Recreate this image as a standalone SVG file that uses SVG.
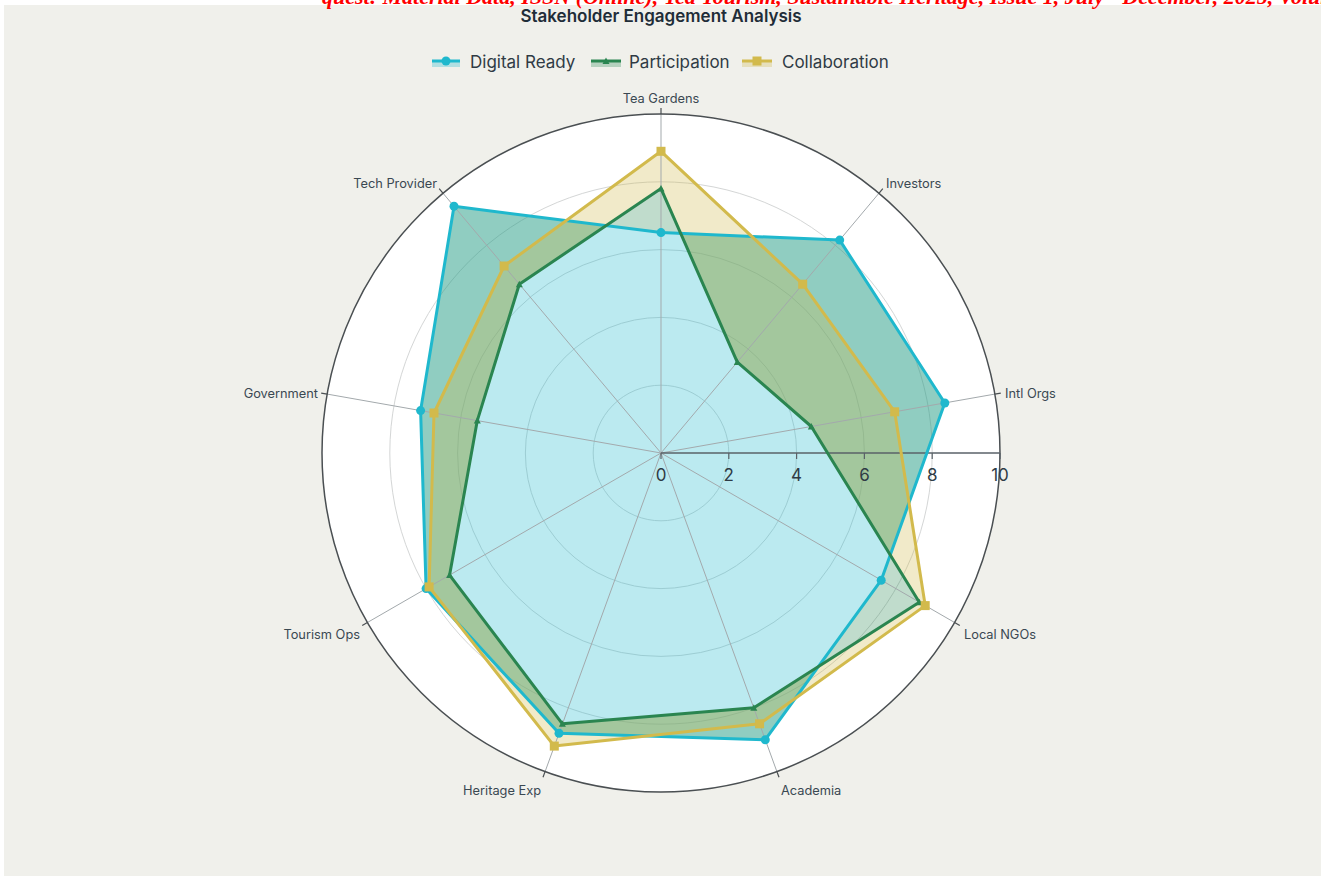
<svg xmlns="http://www.w3.org/2000/svg" width="1321" height="876" viewBox="0 0 1321 876">
<style>
.cat{font-family:Inter,"Liberation Sans",Arial,sans-serif;font-size:12.8px;fill:#3a4852}
.tick{font-family:Inter,"Liberation Sans",Arial,sans-serif;font-size:17px;fill:#2f3b45;text-anchor:middle}
.leg{font-family:Inter,"Liberation Sans",Arial,sans-serif;font-size:17px;fill:#2f3b45}
.grid{fill:none;stroke:#d4d6d6;stroke-width:1}
.spoke{stroke:#a3a9ac;stroke-width:1}
.ln{fill:none;stroke-width:3;stroke-linejoin:round}
</style>
<defs>
<marker id="mc" viewBox="-5 -5 10 10" markerWidth="10" markerHeight="10" markerUnits="userSpaceOnUse"><circle r="4.5" fill="#1FB8CD"/></marker>
<marker id="mg" viewBox="-5 -5 10 10" markerWidth="10" markerHeight="10" markerUnits="userSpaceOnUse"><path d="M0,-3.5 L3.5,3 L-3.5,3 Z" fill="#2a8550"/></marker>
<marker id="my" viewBox="-5 -5 10 10" markerWidth="10" markerHeight="10" markerUnits="userSpaceOnUse"><rect x="-4.5" y="-4.5" width="9" height="9" fill="#D2BA4C"/></marker>
</defs>
<rect width="1321" height="876" fill="#ffffff"/>
<rect x="4" y="5" width="1317" height="871" fill="#f0f0eb"/>
<text x="322" y="4" font-family="'Liberation Serif',serif" font-style="italic" font-weight="bold" font-size="22" fill="#ff0000">quest: Material Data, ISSN (Online), Tea Tourism, Sustainable Heritage, Issue 1, July - December, 2025, Volume 3</text>
<text x="661" y="22" text-anchor="middle" font-family="Inter,'Liberation Sans',sans-serif" font-size="17" font-weight="600" fill="#1f2d38">Stakeholder Engagement Analysis</text>

<g id="legend">
<rect x="432" y="61" width="28" height="6" fill="#1FB8CD" fill-opacity="0.3"/>
<line x1="432" y1="61" x2="460" y2="61" stroke="#1FB8CD" stroke-width="3"/>
<circle cx="446" cy="61" r="4.5" fill="#1FB8CD"/>
<text class="leg" x="470" y="68">Digital Ready</text>
<rect x="591" y="61" width="30" height="6" fill="#2E8B57" fill-opacity="0.3"/>
<line x1="591" y1="61" x2="621" y2="61" stroke="#2a8550" stroke-width="3"/>
<path d="M606,57.5 L609.5,64 L602.5,64 Z" fill="#2a8550"/>
<text class="leg" x="629" y="68">Participation</text>
<rect x="742" y="61" width="30" height="6" fill="#D2BA4C" fill-opacity="0.3"/>
<line x1="742" y1="61" x2="772" y2="61" stroke="#D2BA4C" stroke-width="3"/>
<rect x="752.5" y="56.5" width="9" height="9" fill="#D2BA4C"/>
<text class="leg" x="782" y="68">Collaboration</text>
</g>

<g id="polar-bg">
<circle cx="661" cy="453" r="339" fill="#ffffff"/>
<circle class="grid" cx="661" cy="453" r="67.8"/>
<circle class="grid" cx="661" cy="453" r="135.6"/>
<circle class="grid" cx="661" cy="453" r="203.4"/>
<circle class="grid" cx="661" cy="453" r="271.2"/>
</g>

<g id="fills">
<path d="M661,232.6 L839.7,240.1 L944.8,403.0 L881.2,580.2 L765.3,739.7 L559.0,733.3 L426.1,588.6 L420.6,410.6 L454.0,206.3 Z" fill="#1FB8CD" fill-opacity="0.3"/>
<path fill-rule="evenodd" d="M661,232.6 L839.7,240.1 L944.8,403.0 L881.2,580.2 L765.3,739.7 L559.0,733.3 L426.1,588.6 L420.6,410.6 L454.0,206.3 Z M661,188.6 L737.3,362.1 L811.3,426.5 L919.3,602.2 L753.8,707.8 L562.4,723.8 L449.6,575.1 L477.3,420.6 L519.3,284.2 Z" fill="#2E8B57" fill-opacity="0.3"/>
<path fill-rule="evenodd" d="M661,188.6 L737.3,362.1 L811.3,426.5 L919.3,602.2 L753.8,707.8 L562.4,723.8 L449.6,575.1 L477.3,420.6 L519.3,284.2 Z M661,151.3 L802.7,284.2 L894.7,411.8 L925.2,605.6 L759.6,723.8 L554.3,746.1 L429.1,586.9 L434.0,413.0 L504.1,266.0 Z" fill="#D2BA4C" fill-opacity="0.3"/>
</g>

<g id="axes">
<line class="spoke" x1="661" y1="453" x2="661" y2="114"/>
<line class="spoke" x1="661" y1="453" x2="878.9" y2="193.3"/>
<line class="spoke" x1="661" y1="453" x2="994.8" y2="394.1"/>
<line class="spoke" x1="661" y1="453" x2="954.6" y2="622.5"/>
<line class="spoke" x1="661" y1="453" x2="776.9" y2="771.6"/>
<line class="spoke" x1="661" y1="453" x2="545.1" y2="771.6"/>
<line class="spoke" x1="661" y1="453" x2="367.4" y2="622.5"/>
<line class="spoke" x1="661" y1="453" x2="327.2" y2="394.1"/>
<line class="spoke" x1="661" y1="453" x2="443.1" y2="193.3"/>
<circle cx="661" cy="453" r="339" fill="none" stroke="#4a4f52" stroke-width="1.5"/>
<g stroke="#4a4f52" stroke-width="1.2">
<line x1="661" y1="114" x2="661" y2="108"/>
<line x1="878.9" y1="193.3" x2="882.8" y2="188.7"/>
<line x1="994.8" y1="394.1" x2="1000.8" y2="393.1"/>
<line x1="954.6" y1="622.5" x2="959.8" y2="625.5"/>
<line x1="776.9" y1="771.6" x2="779.0" y2="777.2"/>
<line x1="545.1" y1="771.6" x2="543.0" y2="777.2"/>
<line x1="367.4" y1="622.5" x2="362.2" y2="625.5"/>
<line x1="327.2" y1="394.1" x2="321.2" y2="393.1"/>
<line x1="443.1" y1="193.3" x2="439.2" y2="188.7"/>
</g>
<text class="cat" x="661" y="103" text-anchor="middle">Tea Gardens</text>
<text class="cat" x="886" y="188">Investors</text>
<text class="cat" x="1005" y="398">Intl Orgs</text>
<text class="cat" x="964" y="639">Local NGOs</text>
<text class="cat" x="781" y="795">Academia</text>
<text class="cat" x="541" y="795" text-anchor="end">Heritage Exp</text>
<text class="cat" x="360" y="639" text-anchor="end">Tourism Ops</text>
<text class="cat" x="318" y="398" text-anchor="end">Government</text>
<text class="cat" x="437" y="188" text-anchor="end">Tech Provider</text>
</g>

<g id="radial-axis">
<line x1="661" y1="453" x2="1000" y2="453" stroke="#5a6268" stroke-width="1.5"/>
<g stroke="#5a6268" stroke-width="1.2">
<line x1="661" y1="453" x2="661" y2="459"/>
<line x1="728.8" y1="453" x2="728.8" y2="459"/>
<line x1="796.6" y1="453" x2="796.6" y2="459"/>
<line x1="864.4" y1="453" x2="864.4" y2="459"/>
<line x1="932.2" y1="453" x2="932.2" y2="459"/>
<line x1="1000" y1="453" x2="1000" y2="459"/>
</g>
<text class="tick" x="661" y="481">0</text>
<text class="tick" x="728.8" y="481">2</text>
<text class="tick" x="796.6" y="481">4</text>
<text class="tick" x="864.4" y="481">6</text>
<text class="tick" x="932.2" y="481">8</text>
<text class="tick" x="1000" y="481">10</text>
</g>

<g id="connectors">
<path id="digital-ready" class="ln" stroke="#1FB8CD" marker-start="url(#mc)" marker-mid="url(#mc)" d="M661,232.6 L839.7,240.1 L944.8,403.0 L881.2,580.2 L765.3,739.7 L559.0,733.3 L426.1,588.6 L420.6,410.6 L454.0,206.3 Z"/>
<path id="participation" class="ln" stroke="#2a8550" marker-start="url(#mg)" marker-mid="url(#mg)" d="M661,188.6 L737.3,362.1 L811.3,426.5 L919.3,602.2 L753.8,707.8 L562.4,723.8 L449.6,575.1 L477.3,420.6 L519.3,284.2 Z"/>
<path id="collaboration" class="ln" stroke="#D2BA4C" marker-start="url(#my)" marker-mid="url(#my)" d="M661,151.3 L802.7,284.2 L894.7,411.8 L925.2,605.6 L759.6,723.8 L554.3,746.1 L429.1,586.9 L434.0,413.0 L504.1,266.0 Z"/>
</g>
</svg>
